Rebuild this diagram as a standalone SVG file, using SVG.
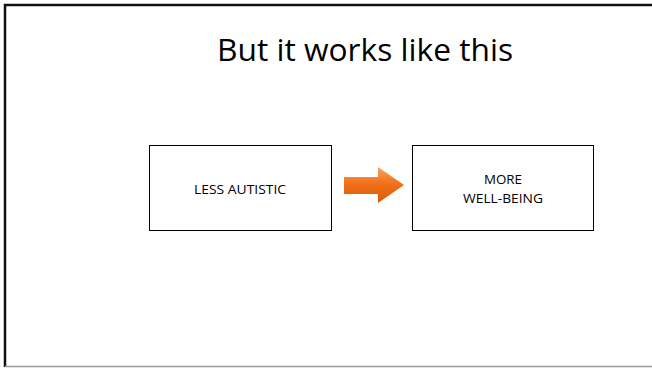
<svg xmlns="http://www.w3.org/2000/svg" width="652" height="369" viewBox="0 0 652 369">
<style>
.box{fill:#ffffff;stroke:#000000;stroke-width:1}
.lbl{font-family:"Open Sans","Noto Sans","Liberation Sans",sans-serif;font-size:13px;fill:#000000;text-anchor:middle}
.title{font-family:"Open Sans","Noto Sans","Liberation Sans",sans-serif;font-size:31px;fill:#000000}
</style>
<defs>
<linearGradient id="org" x1="0" y1="0" x2="0" y2="1">
<stop offset="0" stop-color="#FBA35E"/>
<stop offset="0.45" stop-color="#F2711A"/>
<stop offset="1" stop-color="#D95B05"/>
</linearGradient>
</defs>
<rect width="652" height="369" fill="#ffffff"/>
<g id="frame">
<path d="M5,367 V5 H652" fill="none" stroke="#111111" stroke-width="2.5"/>
<line x1="5" y1="366.5" x2="652" y2="366.5" stroke="#999999" stroke-width="1.5"/>
</g>
<g id="title">
<text class="title" x="217" y="61" textLength="296" lengthAdjust="spacingAndGlyphs">But it works like this</text>
</g>
<g id="node-less-autistic">
<rect class="box" x="149.5" y="145.5" width="182" height="85"/>
<text class="lbl" x="240" y="194" textLength="92" lengthAdjust="spacingAndGlyphs">LESS AUTISTIC</text>
</g>
<g id="node-more-well-being">
<rect class="box" x="412.5" y="145.5" width="181" height="85"/>
<text class="lbl" x="503" y="184" textLength="38" lengthAdjust="spacingAndGlyphs">MORE</text>
<text class="lbl" x="503" y="203" textLength="80" lengthAdjust="spacingAndGlyphs">WELL-BEING</text>
</g>
<g id="connectors">
<polygon points="344,177 378,177 378,167 404,185 378,203 378,194 344,194" fill="url(#org)"/>
</g>
</svg>
